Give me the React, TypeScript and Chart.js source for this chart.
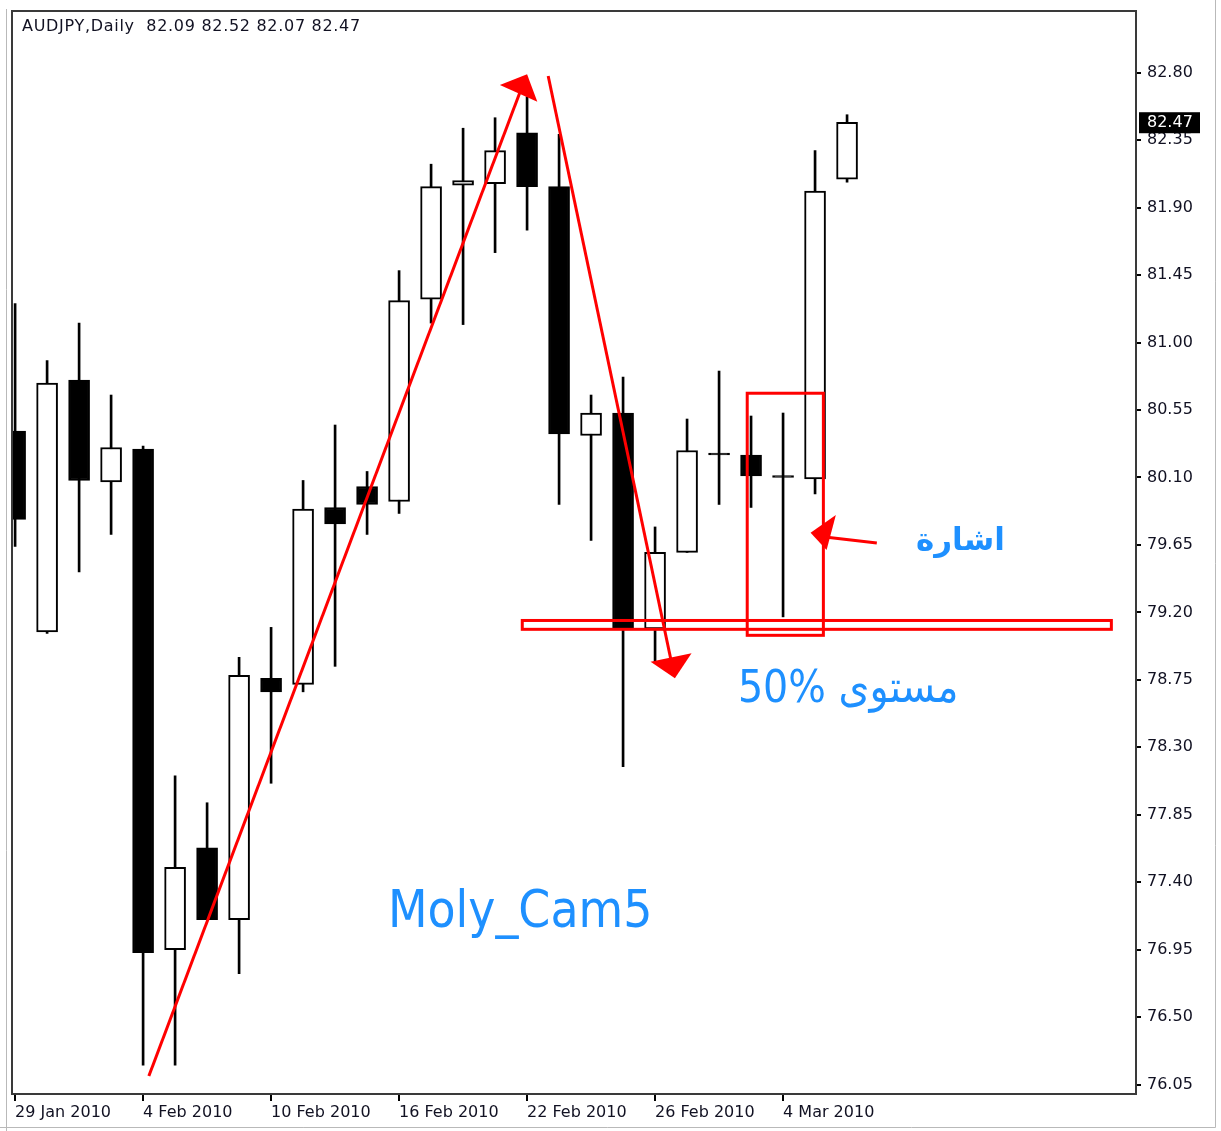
import React, { useEffect, useRef } from "react";
import { Chart, registerables } from "chart.js";

Chart.register(...registerables);

// ---------- data ----------
const symbol = "AUDJPY";
const timeframe = "Daily";

const dates = [
  "29 Jan 2010", "1 Feb 2010", "2 Feb 2010", "3 Feb 2010", "4 Feb 2010", "5 Feb 2010",
  "8 Feb 2010", "9 Feb 2010", "10 Feb 2010", "11 Feb 2010", "12 Feb 2010", "15 Feb 2010",
  "16 Feb 2010", "17 Feb 2010", "18 Feb 2010", "19 Feb 2010", "22 Feb 2010", "23 Feb 2010",
  "24 Feb 2010", "25 Feb 2010", "26 Feb 2010", "1 Mar 2010", "2 Mar 2010", "3 Mar 2010",
  "4 Mar 2010", "5 Mar 2010", "8 Mar 2010",
];

const opens = [80.41, 79.07, 80.75, 80.07, 80.29, 76.95, 77.63, 77.15, 78.76, 78.72, 79.90, 80.04, 79.94, 81.29, 82.05, 82.06, 82.40, 82.04, 80.38, 80.53, 79.09, 79.60, 80.25, 80.25, 80.10, 80.09, 82.09];
const highs = [81.26, 80.88, 81.13, 80.65, 80.31, 78.11, 77.93, 78.90, 79.10, 80.08, 80.45, 80.14, 81.48, 82.19, 82.43, 82.50, 82.64, 82.39, 80.65, 80.77, 79.77, 80.49, 80.81, 80.51, 80.53, 82.28, 82.52];
const lows = [79.64, 79.06, 79.47, 79.72, 76.18, 76.18, 77.15, 76.79, 78.06, 78.67, 78.84, 79.72, 79.86, 81.13, 81.12, 81.60, 81.75, 79.92, 79.68, 78.17, 78.87, 79.60, 79.92, 79.90, 79.17, 79.99, 82.07];
const closes = [79.82, 80.73, 80.08, 80.30, 76.93, 77.50, 77.15, 78.78, 78.67, 79.89, 79.79, 79.92, 81.28, 82.04, 82.08, 82.28, 82.04, 80.39, 80.53, 79.09, 79.60, 80.28, 80.25, 80.11, 80.10, 82.01, 82.47];

const yTickValues = [76.05, 76.5, 76.95, 77.4, 77.85, 78.3, 78.75, 79.2, 79.65, 80.1, 80.55, 81.0, 81.45, 81.9, 82.35, 82.8];
const xTickIndices = [0, 4, 8, 12, 16, 20, 24];

// axis ranges (bar index / price)
const xMin = -0.097;
const xMax = 35.03;
const yMin = 75.987;
const yMax = 83.212;

// hand-drawn annotations, in data units: [bar index, price]
const upArrowLine = [[4.18, 76.107], [15.78, 82.671]];
const upArrowHead = [[15.15, 82.718], [16.0, 82.79], [16.32, 82.607]];
const downArrowLine = [[16.66, 82.778], [20.53, 78.849]];
const downArrowHead = [[19.86, 78.871], [21.14, 78.927], [20.62, 78.76]];
const signalArrowLine = [[25.31, 79.703], [26.93, 79.663]];
const signalArrowHead = [[24.86, 79.731], [25.65, 79.849], [25.36, 79.616]];
const levelBox = [[15.85, 79.146], [34.26, 79.087]];
const signalBox = [[22.88, 80.662], [25.26, 79.047]];

const signalText = "اشارة";
const signalTextAnchor = [30.93, 79.616];
const levelText = "50% مستوى";
const levelTextAnchor = [22.59, 78.602];
const authorText = "Moly_Cam5";
const authorTextAnchor = [11.65, 77.1];

// ---------- component ----------
const RED = "#ff0000";
const BLUE = "#1e90ff";

export default function App() {
  const canvasRef = useRef<HTMLCanvasElement | null>(null);

  useEffect(() => {
    document.body.style.margin = "0";
    document.body.style.overflow = "hidden";
    const canvas = canvasRef.current;
    if (!canvas) return;

    const n = opens.length;
    const idx = Array.from({ length: n }, (_, i) => i);
    const bodyData = idx.map((i) => ({ x: i, y: [opens[i], closes[i]] }));
    const wickData = idx.map((i) => ({ x: i, y: [lows[i], highs[i]] }));
    const bodyFill = idx.map((i) => (closes[i] > opens[i] ? "#ffffff" : "#000000"));

    const decor = {
      id: "decor",
      beforeDraw(chart: any) {
        const { ctx, width, height } = chart;
        ctx.save();
        ctx.fillStyle = "#ffffff";
        ctx.fillRect(0, 0, width, height);
        ctx.strokeStyle = "#b9b9b9";
        ctx.lineWidth = 1;
        ctx.beginPath();
        ctx.moveTo(6.5, 9);
        ctx.lineTo(6.5, height);
        ctx.moveTo(1215.5, 0);
        ctx.lineTo(1215.5, 1127.5);
        ctx.moveTo(0, 1127.5);
        ctx.lineTo(1215.5, 1127.5);
        ctx.stroke();
        ctx.restore();
      },
      afterDatasetsDraw(chart: any) {
        const { ctx, chartArea } = chart;
        const xs = chart.scales.x;
        const ys = chart.scales.y;
        const P = (pt: number[]) => [xs.getPixelForValue(pt[0]), ys.getPixelForValue(pt[1])];
        ctx.save();
        // frame top + left
        ctx.strokeStyle = "#3a3a3a";
        ctx.lineWidth = 2;
        ctx.beginPath();
        ctx.moveTo(chartArea.left, chartArea.bottom);
        ctx.lineTo(chartArea.left, chartArea.top);
        ctx.lineTo(chartArea.right, chartArea.top);
        ctx.stroke();

        ctx.strokeStyle = RED;
        ctx.fillStyle = RED;
        ctx.lineWidth = 3;
        const line = (pts: number[][]) => {
          ctx.beginPath();
          pts.forEach((p, k) => {
            const [x, y] = P(p);
            if (k === 0) ctx.moveTo(x, y);
            else ctx.lineTo(x, y);
          });
          ctx.stroke();
        };
        const tri = (pts: number[][]) => {
          ctx.beginPath();
          pts.forEach((p, k) => {
            const [x, y] = P(p);
            if (k === 0) ctx.moveTo(x, y);
            else ctx.lineTo(x, y);
          });
          ctx.closePath();
          ctx.fill();
        };
        const box = (b: number[][]) => {
          const [x1, y1] = P(b[0]);
          const [x2, y2] = P(b[1]);
          ctx.strokeRect(x1, y1, x2 - x1, y2 - y1);
        };
        line(upArrowLine);
        tri(upArrowHead);
        line(downArrowLine);
        tri(downArrowHead);
        box(levelBox);
        box(signalBox);
        line(signalArrowLine);
        tri(signalArrowHead);

        // texts
        ctx.fillStyle = BLUE;
        ctx.textBaseline = "alphabetic";
        ctx.font = "bold 31px 'DejaVu Sans'";
        ctx.textAlign = "right";
        let [tx, ty] = P(signalTextAnchor);
        ctx.fillText(signalText, tx, ty);

        ctx.font = "44px 'DejaVu Sans Condensed', 'DejaVu Sans'";
        ctx.textAlign = "left";
        [tx, ty] = P(levelTextAnchor);
        ctx.fillText(levelText, tx, ty);

        ctx.font = "51px 'DejaVu Sans Condensed', 'DejaVu Sans'";
        [tx, ty] = P(authorTextAnchor);
        ctx.fillText(authorText, tx, ty);

        // header
        ctx.fillStyle = "#111122";
        ctx.font = "16px 'DejaVu Sans'";
        ctx.textBaseline = "middle";
        try { (ctx as any).letterSpacing = "0.7px"; } catch (e) {}
        const last = n - 1;
        const header = `${symbol},${timeframe}  ${opens[last].toFixed(2)} ${highs[last].toFixed(2)} ${lows[last].toFixed(2)} ${closes[last].toFixed(2)}`;
        ctx.fillText(header, chartArea.left + 10, chartArea.top + 16);
        try { (ctx as any).letterSpacing = "0px"; } catch (e) {}
        ctx.restore();
      },
      afterDraw(chart: any) {
        const { ctx, chartArea } = chart;
        const ys = chart.scales.y;
        const last = closes[closes.length - 1];
        const y = ys.getPixelForValue(last);
        ctx.save();
        ctx.fillStyle = "#000000";
        ctx.fillRect(chartArea.right + 3, y - 10, 61, 21);
        ctx.fillStyle = "#ffffff";
        ctx.font = "16px 'DejaVu Sans'";
        ctx.textBaseline = "middle";
        ctx.textAlign = "left";
        ctx.fillText(last.toFixed(2), chartArea.right + 11, y + 0.5);
        ctx.restore();
      },
    };

    const chart = new Chart(canvas, {
      type: "bar",
      data: {
        datasets: [
          {
            label: "wick",
            data: wickData as any,
            backgroundColor: "#000000",
            borderWidth: 0,
            barThickness: 2,
            grouped: false,
            order: 2,
          } as any,
          {
            label: "body",
            data: bodyData as any,
            backgroundColor: bodyFill,
            borderColor: "#000000",
            borderWidth: 2,
            borderSkipped: false,
            barThickness: 21,
            minBarLength: 2,
            grouped: false,
            order: 1,
          } as any,
        ],
      },
      options: {
        animation: false,
        responsive: false,
        events: [],
        layout: { padding: { left: 12, top: 11, right: 0, bottom: 0 } },
        plugins: { legend: { display: false }, tooltip: { enabled: false } },
        font: { family: "'DejaVu Sans'" },
        scales: {
          x: {
            type: "linear",
            min: xMin,
            max: xMax,
            offset: false,
            grid: { display: true, drawOnChartArea: false, tickLength: 7, color: "#000", lineWidth: 2, offset: false },
            border: { display: true, color: "#3a3a3a", width: 2 },
            afterBuildTicks: (scale: any) => {
              scale.ticks = xTickIndices.map((v) => ({ value: v }));
            },
            afterFit: (scale: any) => {
              scale.height = 37;
              scale.paddingLeft = 0;
              scale.paddingRight = 0;
            },
            ticks: {
              autoSkip: false,
              maxRotation: 0,
              minRotation: 0,
              align: "start",
              padding: 2,
              color: "#111122",
              font: { family: "'DejaVu Sans'", size: 16 },
              callback: (v: any) => dates[Math.round(Number(v))] ?? "",
            },
          },
          y: {
            type: "linear",
            position: "right",
            min: yMin,
            max: yMax,
            grid: { display: true, drawOnChartArea: false, tickLength: 5, color: "#000", lineWidth: 2 },
            border: { display: true, color: "#3a3a3a", width: 2 },
            afterBuildTicks: (scale: any) => {
              scale.ticks = yTickValues.map((v) => ({ value: v }));
            },
            afterFit: (scale: any) => {
              scale.width = 85;
              scale.paddingTop = 0;
              scale.paddingBottom = 0;
            },
            ticks: {
              autoSkip: false,
              padding: 6,
              color: "#111122",
              font: { family: "'DejaVu Sans'", size: 16 },
              callback: (v: any) => Number(v).toFixed(2),
            },
          },
        },
      } as any,
      plugins: [decor],
    });

    return () => chart.destroy();
  }, []);

  return (
    <div style={{ width: 1221, height: 1131, position: "relative" }}>
      <canvas ref={canvasRef} width={1221} height={1131} style={{ display: "block" }} />
    </div>
  );
}
